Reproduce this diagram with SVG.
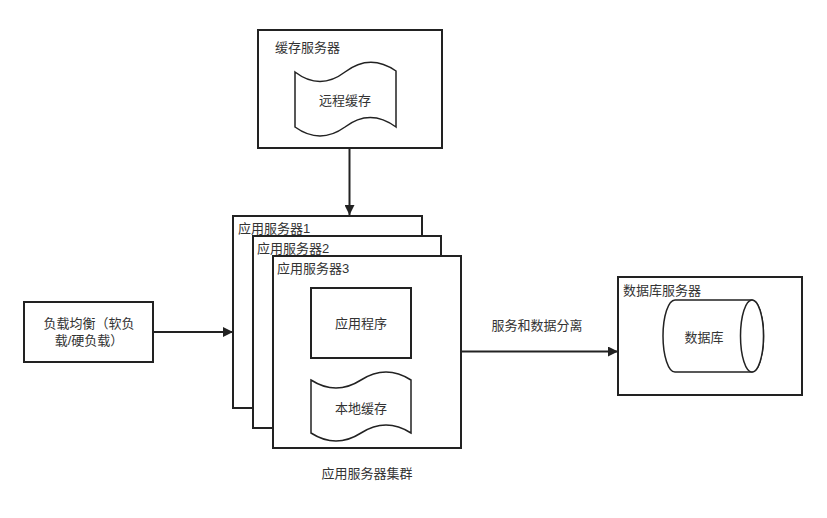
<svg xmlns="http://www.w3.org/2000/svg" width="827" height="518" viewBox="0 0 827 518">
<style>
.box{fill:#fff;stroke:#222;stroke-width:2}
.sh{fill:#fff;stroke:#222;stroke-width:1.5}
.t{font-family:"Liberation Sans","Noto Sans CJK SC",sans-serif;font-size:13px;fill:#333}
.c{text-anchor:middle;dominant-baseline:central}
.l{dominant-baseline:central}
.e{fill:none;stroke:#222;stroke-width:2}
</style>
<defs>
<marker id="ah" viewBox="0 0 10 10" refX="10" refY="5" markerWidth="10" markerHeight="10" markerUnits="userSpaceOnUse" orient="auto">
<path d="M0,0 L10,5 L0,10 Z" fill="#222"/>
</marker>
</defs>
<rect width="827" height="518" fill="#fff"/>
<g id="connectors">
<path class="e" d="M349.5,148 V215" marker-end="url(#ah)"/>
<path class="e" d="M153,332 H233" marker-end="url(#ah)"/>
<path class="e" d="M461,351.5 H618" marker-end="url(#ah)"/>
<text class="t c" x="537" y="325">服务和数据分离</text>
</g>
<g id="cache-server">
<rect class="box" x="258" y="30" width="184" height="118"/>
<text class="t l" x="275" y="47">缓存服务器</text>
</g>
<g id="remote-cache">
<path class="sh" d="M295,72 Q320,91 345,72 Q370,53 396,71 L396,127 Q370,108 345,127 Q320,145 295,127 Z"/>
<text class="t c" x="345" y="100">远程缓存</text>
</g>
<g id="app-server-1">
<rect class="box" x="233" y="216" width="189" height="192"/>
<text class="t l" x="238" y="228">应用服务器1</text>
</g>
<g id="app-server-2">
<rect class="box" x="253" y="236" width="188" height="192"/>
<text class="t l" x="257" y="248">应用服务器2</text>
</g>
<g id="app-server-3">
<rect class="box" x="273" y="256" width="188" height="192"/>
<text class="t l" x="277" y="268">应用服务器3</text>
</g>
<g id="app-program">
<rect class="box" x="311" y="288" width="100" height="70"/>
<text class="t c" x="361" y="323">应用程序</text>
</g>
<g id="local-cache">
<path class="sh" d="M311,380 Q336,396 361,380 Q386,364 411,380 L411,433 Q386,417 361,433 Q336,449 311,433 Z"/>
<text class="t c" x="361" y="408">本地缓存</text>
</g>
<g id="cluster-label">
<text class="t c" x="367" y="473">应用服务器集群</text>
</g>
<g id="load-balancer">
<rect class="box" x="24" y="302" width="129" height="60"/>
<text class="t c" x="89" y="323">负载均衡（软负</text>
<text class="t c" x="89" y="340">载/硬负载）</text>
</g>
<g id="db-server">
<rect class="box" x="618" y="277" width="184" height="118"/>
<text class="t l" x="623" y="290">数据库服务器</text>
</g>
<g id="database">
<path class="sh" d="M675,300 L752,300 A11.5,36 0 0 1 752,372 L675,372 A12,36 0 0 1 675,300 Z"/>
<ellipse class="sh" cx="752" cy="336" rx="11.5" ry="36" fill="none"/>
<text class="t c" x="704" y="337">数据库</text>
</g>
</svg>
